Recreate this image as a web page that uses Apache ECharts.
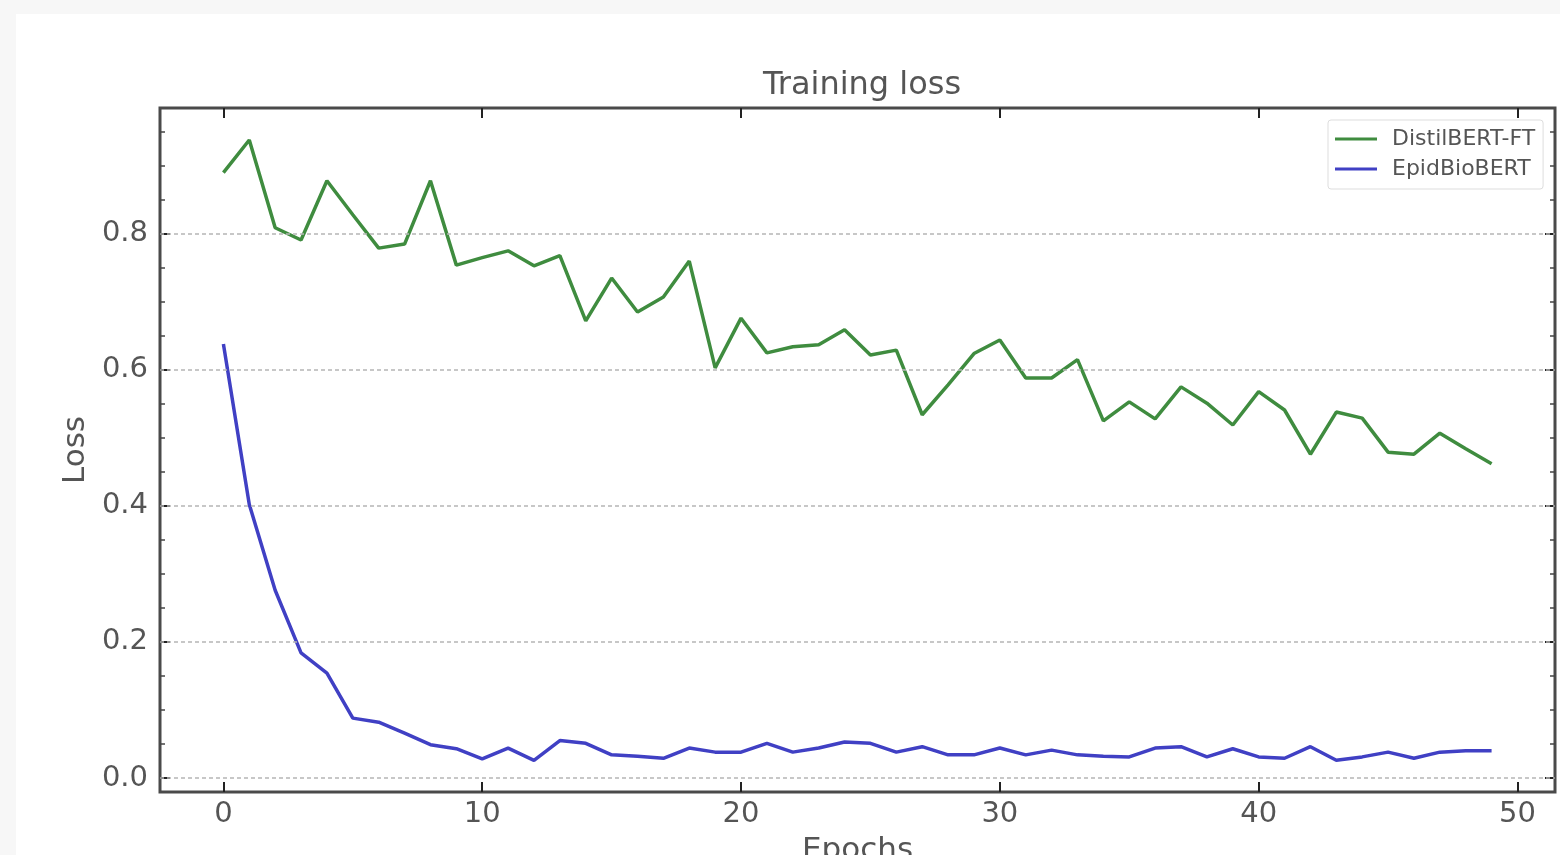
<!DOCTYPE html>
<html>
<head>
<meta charset="utf-8">
<script src="https://cdn.jsdelivr.net/npm/echarts@6/dist/echarts.min.js"></script>
<style>
html,body{margin:0;padding:0;background:#f7f7f7;}
#chart{width:1560px;height:855px;}
</style>
</head>
<body>
<div id="chart"></div>
<script>
const epochs = Array.from({length: 50}, (_, i) => i);
const distilbertFT = [0.890,0.938,0.809,0.791,0.878,0.828,0.779,0.785,0.878,0.754,
  0.765,0.775,0.753,0.768,0.672,0.735,0.685,0.707,0.760,0.603,
  0.676,0.625,0.634,0.637,0.659,0.622,0.629,0.534,0.578,0.624,
  0.644,0.588,0.588,0.615,0.525,0.553,0.528,0.575,0.551,0.519,
  0.568,0.541,0.476,0.538,0.529,0.479,0.476,0.507,0.484,0.462];
const epidBioBERT = [0.638,0.402,0.276,0.184,0.154,0.088,0.082,0.066,0.049,0.043,
  0.028,0.044,0.026,0.055,0.051,0.034,0.032,0.029,0.044,0.038,
  0.038,0.051,0.038,0.044,0.053,0.051,0.038,0.046,0.034,0.034,
  0.044,0.034,0.041,0.034,0.032,0.031,0.044,0.046,0.031,0.043,
  0.031,0.029,0.046,0.026,0.031,0.038,0.029,0.038,0.040,0.040];
const xTicks = [0,10,20,30,40,50];
const yTicks = [0,0.2,0.4,0.6,0.8];
const yMinorTicks = [0.05,0.1,0.15,0.25,0.3,0.35,0.45,0.5,0.55,0.65,0.7,0.75,0.85,0.9,0.95];

const X_MIN = -2.45, X_MAX = 51.45, Y_MIN = -0.0206, Y_MAX = 0.985;
const FONT = 'DejaVu Sans';
const tickMajor = {show:true, inside:true, length:10, lineStyle:{color:'#222', width:2}};
const tickMinor = {show:true, inside:true, length:5, lineStyle:{color:'#444', width:1.5}};

function xAx(pos, labels) {
  return {
    type:'value', position:pos, min:X_MIN, max:X_MAX,
    axisLine:{show:false, onZero:false}, splitLine:{show:false},
    axisTick:Object.assign({customValues:xTicks}, tickMajor),
    axisLabel:{show:labels, customValues:xTicks, fontFamily:FONT, fontSize:29, color:'#555', margin:8},
    name: labels ? 'Epochs' : '', nameLocation:'middle', nameGap:43,
    nameTextStyle:{fontFamily:FONT, fontSize:31, color:'#555'}
  };
}
function yAx(pos, vals, tick, labels) {
  return {
    type:'value', position:pos, min:Y_MIN, max:Y_MAX,
    axisLine:{show:false, onZero:false}, splitLine:{show:false},
    axisTick:Object.assign({customValues:vals}, tick),
    axisLabel:{show:labels, customValues:vals, fontFamily:FONT, fontSize:29, color:'#555', margin:12,
      formatter: v => Number(v).toFixed(1)},
    name: labels ? 'Loss' : '', nameLocation:'middle', nameGap:66, nameRotate:90,
    nameTextStyle:{fontFamily:FONT, fontSize:31, color:'#555'}
  };
}

const chart = echarts.init(document.getElementById('chart'), null, {renderer:'canvas'});
chart.setOption({
  backgroundColor:'#f7f7f7',
  animation:false,
  graphic:[{type:'rect', left:16, top:14, shape:{width:1544, height:841}, style:{fill:'#ffffff'}, z:-10, silent:true}],
  title:{text:'Training loss', left:857, top:65, textAlign:'center',
    textStyle:{fontFamily:FONT, fontSize:32, fontWeight:'normal', color:'#555'}},
  legend:{
    left:1328, top:120, orient:'vertical', icon:'rect', itemWidth:42, itemHeight:3, itemGap:8,
    padding:[8,8,9,7], borderColor:'#ddd', borderWidth:1, borderRadius:3, backgroundColor:'#fff',
    textStyle:{fontFamily:FONT, fontSize:22, color:'#555', padding:[0,0,0,10]},
    data:['DistilBERT-FT','EpidBioBERT']
  },
  grid:{left:160, right:5, top:108, bottom:63, show:true, borderColor:'#4a4a4a', borderWidth:3,
    backgroundColor:'transparent', outerBoundsMode:'none', containLabel:false},
  xAxis:[xAx('bottom', true), xAx('top', false)],
  yAxis:[yAx('left', yTicks, tickMajor, true), yAx('left', yMinorTicks, tickMinor, false),
         yAx('right', yTicks, tickMajor, false), yAx('right', yMinorTicks, tickMinor, false)],
  series:[
    {name:'DistilBERT-FT', type:'line', xAxisIndex:0, yAxisIndex:0, showSymbol:false, symbol:'none',
     data: epochs.map((e,i)=>[e, distilbertFT[i]]),
     lineStyle:{color:'#3f8c3f', width:3.5}, itemStyle:{color:'#3f8c3f'}, z:3,
     markLine:{silent:true, symbol:'none', label:{show:false},
       lineStyle:{color:'#b5b5b5', type:[4,3], width:1.5},
       data: yTicks.map(v=>({yAxis:v}))}},
    {name:'EpidBioBERT', type:'line', xAxisIndex:0, yAxisIndex:0, showSymbol:false, symbol:'none',
     data: epochs.map((e,i)=>[e, epidBioBERT[i]]),
     lineStyle:{color:'#4040c4', width:3.5}, itemStyle:{color:'#4040c4'}, z:3}
  ]
});
</script>
</body>
</html>
